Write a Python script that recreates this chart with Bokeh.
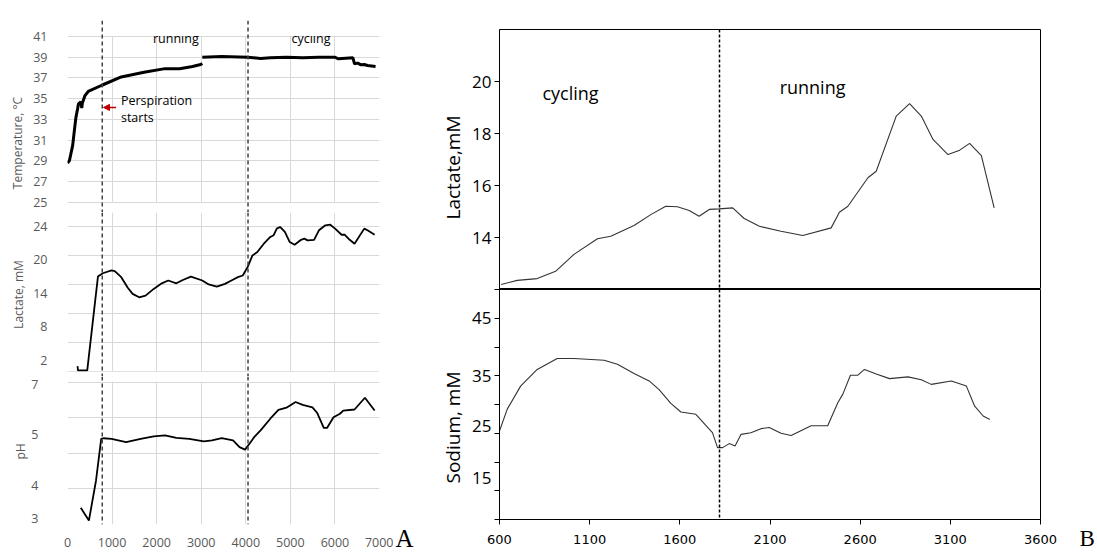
import math
from bokeh.plotting import figure
from bokeh.models import Range1d, FixedTicker, Span, BoxAnnotation, Arrow, NormalHead
from bokeh.layouts import row, column
from bokeh.embed import file_html
from bokeh.resources import INLINE
from bokeh.core.properties import value

# ---------------- Panel A data (time, s) ----------------
temp_run_t = [0, 44, 116, 153, 189, 225, 246, 298, 320, 334, 392, 465, 770, 1206, 1716, 2188, 2515, 2806, 2987, 3024]
temp_run_v = [28.8, 29.05, 30.5, 31.9, 33.2, 34.0, 34.5, 34.7, 34.1, 34.6, 35.3, 35.7, 36.3, 37.1, 37.56, 37.9, 37.9, 38.1, 38.3, 38.4]
temp_cyc_t = [3024, 3460, 4041, 4332, 4550, 4913, 5277, 5641, 6004, 6077, 6404, 6440, 6513, 6585, 6658, 6731, 6912]
temp_cyc_v = [39.0, 39.07, 39.0, 38.88, 38.94, 39.0, 38.94, 39.0, 39.0, 38.85, 38.94, 38.37, 38.43, 38.27, 38.3, 38.2, 38.1]

lactA_t = [225, 235, 443, 683, 792, 988, 1061, 1206, 1352, 1461, 1607, 1751, 1934, 2115, 2261, 2442, 2588, 2769, 3024, 3168,
           3351, 3532, 3678, 3823, 3932, 4041, 4150, 4259, 4405, 4550, 4623, 4695, 4768, 4877, 4986, 5096, 5240, 5314, 5386, 5532,
           5641, 5786, 5895, 6004, 6149, 6222, 6331, 6440, 6658, 6731, 6891]
lactA_v = [0.95, 0.18, 0.18, 17.0, 17.6, 18.1, 18.0, 16.9, 15.0, 13.9, 13.3, 13.6, 14.8, 15.8, 16.3, 15.8, 16.4, 17.0, 16.3, 15.6,
           15.2, 15.7, 16.3, 16.9, 17.2, 18.7, 20.8, 21.4, 22.9, 24.1, 24.4, 25.6, 25.9, 25.0, 23.2, 22.7, 23.6, 23.8, 23.5, 23.6,
           25.3, 26.2, 26.3, 25.6, 24.5, 24.5, 23.6, 22.9, 25.6, 25.3, 24.5]

ph_t = [298, 480, 640, 756, 807, 988, 1315, 1642, 1934, 2188, 2442, 2733, 3059, 3242, 3460, 3714, 3860, 3983, 4078, 4187,
        4332, 4550, 4732, 4913, 5117, 5277, 5495, 5604, 5750, 5822, 5968, 6113, 6186, 6440, 6673, 6891]
ph_v = [3.47, 3.11, 4.24, 5.41, 5.43, 5.41, 5.32, 5.41, 5.48, 5.51, 5.44, 5.41, 5.34, 5.37, 5.43, 5.37, 5.18, 5.11, 5.27, 5.46,
        5.65, 5.98, 6.23, 6.29, 6.45, 6.37, 6.30, 6.14, 5.72, 5.72, 6.02, 6.12, 6.21, 6.24, 6.57, 6.21]

a_time_ticks = [0, 1000, 2000, 3000, 4000, 5000, 6000, 7000]
temp_ticks = [25, 27, 29, 31, 33, 35, 37, 39, 41]
lactA_grid = [0, 5.2, 10.4, 15.6, 20.8, 26.0]
lactA_label_pos = [2, 8, 14, 20, 26]
lactA_labels = ["2", "8", "14", "20", "24"]
ph_grid = [3, 4, 5, 6, 7]
ph_label_pos = [3.17, 4.1, 5.54, 6.94]
ph_labels = ["3", "4", "5", "7"]
a_events = [780, 4050]

# ---------------- Panel B data ----------------
lactB_t = [609, 698, 809, 911, 1013, 1143, 1217, 1346, 1439, 1522, 1587, 1652, 1707, 1763, 1818, 1893, 1957, 2041, 2161, 2282,
           2439, 2485, 2532, 2643, 2689, 2800, 2874, 2939, 3004, 3087, 3152, 3207, 3272, 3343]
lactB_v = [12.19, 12.35, 12.42, 12.70, 13.35, 13.95, 14.05, 14.46, 14.88, 15.20, 15.18, 15.04, 14.82, 15.08, 15.10, 15.14, 14.73, 14.43, 14.24, 14.08,
           14.37, 14.97, 15.20, 16.30, 16.55, 18.67, 19.15, 18.67, 17.77, 17.19, 17.36, 17.62, 17.15, 15.14]

na_t = [600, 643, 717, 809, 920, 1013, 1180, 1254, 1346, 1430, 1485, 1550, 1606, 1689, 1763, 1781, 1809, 1837, 1874, 1906,
        1939, 1994, 2050, 2096, 2161, 2217, 2328, 2420, 2476, 2504, 2546, 2587, 2624, 2689, 2763, 2865, 2939, 2994, 3106, 3189,
        3235, 3282, 3319]
na_v = [25.4, 29.2, 33.2, 36.1, 38.0, 38.0, 37.7, 37.0, 35.4, 34.1, 32.6, 30.2, 28.7, 28.3, 25.7, 25.1, 22.5, 22.5, 23.2, 22.8,
        24.8, 25.1, 25.8, 26.0, 25.0, 24.6, 26.3, 26.3, 30.3, 31.8, 35.1, 35.1, 36.1, 35.3, 34.5, 34.8, 34.3, 33.5, 34.1, 33.2,
        29.7, 28.0, 27.4]

b_time_ticks = [600, 1100, 1600, 2100, 2600, 3100, 3600]
lactB_ticks = [14, 16, 18, 20]
na_minor = [10, 15, 20, 25, 30, 35, 40, 45, 50]
na_label_pos = [17.3, 26.2, 35, 45]
na_labels = ["15", "25", "35", "45"]
b_event = 1820

GREY = "#595959"
GRID = "#d9d9d9"
FONT = "Open Sans"
H = 552  # total layout height

xA = Range1d(0, 7000)
xB = Range1d(600, 3600)


def style_A(p, grid_ticks):
    p.outline_line_color = None
    p.xgrid.ticker = FixedTicker(ticks=a_time_ticks)
    p.ygrid.ticker = FixedTicker(ticks=grid_ticks)
    p.xgrid.grid_line_color = GRID
    p.ygrid.grid_line_color = GRID
    ax = p.yaxis[0]
    ax.axis_line_color = None
    ax.major_tick_line_color = None
    ax.minor_tick_line_color = None
    ax.major_label_text_color = GREY
    ax.major_label_text_font = FONT
    ax.major_label_text_font_size = "12.5px"


def white_box(p, **kw):
    p.add_layout(BoxAnnotation(fill_color="white", fill_alpha=1.0, line_color=None, **kw))


def events_A(p):
    for t in a_events:
        p.add_layout(Span(location=t, dimension="height", line_color="#404040", line_width=1.5, line_dash="4 3"))


def strip(width):
    s = figure(width=width, height=H, x_range=Range1d(0, width), y_range=Range1d(0, H),
               x_axis_location=None, y_axis_location=None, toolbar_location=None, output_backend="svg",
               min_border_left=0, min_border_right=0, min_border_top=0, min_border_bottom=0)
    s.outline_line_color = None
    s.grid.visible = False
    return s


# ---- left strip: axis titles of panel A ----
sL = strip(28)
sL.text(x=[16.8, 17.8, 20.3], y=[H - 142.5, H - 294, H - 451], text=["Temperature, \u00b0C", "Lactate, mM", "pH"],
        angle=math.pi / 2, text_font=value(FONT), text_font_size="12px", text_color=GREY,
        text_align="center", text_baseline="middle")

# ---- Temperature ----
pT = figure(width=365, height=212, x_range=xA, y_range=Range1d(24.036, 42.54), x_axis_location=None,
            toolbar_location=None, output_backend="svg",
            min_border_left=30, min_border_right=14, min_border_top=20, min_border_bottom=0)
pT.yaxis.ticker = FixedTicker(ticks=temp_ticks)
style_A(pT, temp_ticks)
pT.yaxis.major_label_standoff = 14
pT.line(temp_run_t, temp_run_v, line_color="black", line_width=3)
pT.line(temp_cyc_t, temp_cyc_v, line_color="black", line_width=3)
white_box(pT, bottom=41.05)
white_box(pT, top=24.95)
events_A(pT)
pT.text(x=[2431, 5462], y=[40.8, 40.8], text=["running", "cycling"], text_font=value(FONT),
        text_font_size="12.5px", text_align="center", text_baseline="middle", text_color="black")
pT.text(x=[1199, 1199], y=[34.83, 33.19], text=["Perspiration", "starts"], text_font=value(FONT),
        text_font_size="12.5px", text_align="left", text_baseline="middle", text_color="black")
pT.add_layout(Arrow(end=NormalHead(size=6, fill_color="#c00000", line_color="#c00000"),
                    x_start=1090, y_start=34.16, x_end=807, y_end=34.16, line_color="#c00000", line_width=1.5))

# ---- Lactate A ----
pL = figure(width=365, height=164, x_range=xA, y_range=Range1d(-0.9, 28.49), x_axis_location=None,
            toolbar_location=None, output_backend="svg",
            min_border_left=30, min_border_right=14, min_border_top=0, min_border_bottom=0)
pL.yaxis.ticker = FixedTicker(ticks=lactA_label_pos)
pL.yaxis.major_label_overrides = dict(zip(lactA_label_pos, lactA_labels))
style_A(pL, lactA_grid)
pL.yaxis.major_label_standoff = 14
pL.line(lactA_t, lactA_v, line_color="black", line_width=1.8)
white_box(pL, top=-0.05)
events_A(pL)

# ---- pH ----
pP = figure(width=365, height=176, x_range=xA, y_range=Range1d(3, 7.169),
            toolbar_location=None, output_backend="svg",
            min_border_left=30, min_border_right=14, min_border_top=0, min_border_bottom=28)
pP.yaxis.ticker = FixedTicker(ticks=ph_label_pos)
pP.yaxis.major_label_overrides = dict(zip(ph_label_pos, ph_labels))
style_A(pP, ph_grid)
pP.yaxis.major_label_standoff = 23
xa = pP.xaxis[0]
xa.ticker = FixedTicker(ticks=a_time_ticks)
xa.axis_line_color = None
xa.major_tick_line_color = None
xa.minor_tick_line_color = None
xa.major_label_text_color = GREY
xa.major_label_text_font = FONT
xa.major_label_text_font_size = "12.5px"
xa.major_label_standoff = 7
pP.line(ph_t, ph_v, line_color="black", line_width=1.8)
white_box(pP, bottom=7.02)
events_A(pP)

# ---- middle strip: "A" and axis titles of panel B ----
sM = strip(75)
sM.text(x=[2], y=[H - 538], text=["A"], text_font=value("Liberation Serif"), text_font_size="25px",
        text_color="black", text_align="left", text_baseline="middle")
sM.text(x=[59.5, 59.5], y=[H - 167, H - 427], text=["Lactate,mM", "Sodium, mM"], angle=math.pi / 2,
        text_font=value(FONT), text_font_size="19px", text_color="black",
        text_align="center", text_baseline="middle")

# ---- Panel B upper: lactate ----
pU = figure(width=592, height=289, x_range=xB, y_range=Range1d(12, 22), x_axis_location=None,
            toolbar_location=None, output_backend="svg",
            min_border_left=31, min_border_right=20, min_border_top=29, min_border_bottom=0)
pU.grid.visible = False
pU.outline_line_color = "black"
pU.outline_line_width = 1
ay = pU.yaxis[0]
ay.ticker = FixedTicker(ticks=lactB_ticks)
ay.axis_line_color = "black"
ay.major_tick_out = 5
ay.major_tick_in = 0
ay.major_tick_line_color = "black"
ay.minor_tick_line_color = None
ay.major_label_text_font = FONT
ay.major_label_text_font_size = "17px"
ay.major_label_text_color = "black"
ay.major_label_standoff = 3
pU.line(lactB_t, lactB_v, line_color="#333333", line_width=1.1)
pU.add_layout(Span(location=b_event, dimension="height", line_color="black", line_width=1.5, line_dash="3 2"))
pU.text(x=[994, 2336], y=[19.54, 19.8], text=["cycling", "running"], text_font=value(FONT),
        text_font_size="18px", text_align="center", text_baseline="middle", text_color="black")

# ---- Panel B lower: sodium ----
pN = figure(width=592, height=263, x_range=xB, y_range=Range1d(10, 50),
            toolbar_location=None, output_backend="svg",
            min_border_left=31, min_border_right=20, min_border_top=0, min_border_bottom=33)
pN.grid.visible = False
pN.outline_line_color = "black"
pN.outline_line_width = 1
ny = pN.yaxis[0]
ny.ticker = FixedTicker(ticks=na_label_pos, minor_ticks=na_minor)
ny.major_label_overrides = dict(zip(na_label_pos, na_labels))
ny.axis_line_color = "black"
ny.major_tick_line_color = None
ny.minor_tick_line_color = "black"
ny.minor_tick_out = 5
ny.minor_tick_in = 0
ny.major_tick_out = 5
ny.major_tick_in = 0
ny.major_label_text_font = FONT
ny.major_label_text_font_size = "17px"
ny.major_label_text_color = "black"
ny.major_label_standoff = 3
nx = pN.xaxis[0]
nx.ticker = FixedTicker(ticks=b_time_ticks)
nx.axis_line_color = "black"
nx.major_tick_line_color = "black"
nx.major_tick_out = 5
nx.major_tick_in = 0
nx.minor_tick_line_color = None
nx.major_label_text_font = "DejaVu Sans"
nx.major_label_text_font_size = "13px"
nx.major_label_text_color = "black"
nx.major_label_standoff = 10
pN.line(na_t, na_v, line_color="#333333", line_width=1.1)
pN.add_layout(Span(location=b_event, dimension="height", line_color="black", line_width=1.5, line_dash="3 2"))

# ---- right strip: "B" ----
sR = strip(36)
sR.text(x=[19], y=[H - 538], text=["B"], text_font=value("Liberation Serif"), text_font_size="23px",
        text_color="black", text_align="left", text_baseline="middle")

layout = row(sL, column(pT, pL, pP, spacing=0), sM, column(pU, pN, spacing=0), sR, spacing=0)
open("out.html", "w").write(file_html(layout, INLINE))
